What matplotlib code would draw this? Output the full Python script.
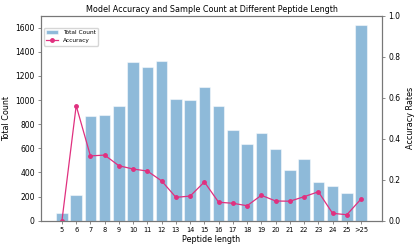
import matplotlib
matplotlib.use("Agg")
import matplotlib.pyplot as plt
import numpy as np

lengths = ["5", "6", "7", "8", "9", "10", "11", "12", "13", "14", "15", "16",
           "17", "18", "19", "20", "21", "22", "23", "24", "25", ">25"]
counts = [62, 212, 866, 874, 949, 1315, 1271, 1327, 1012, 998, 1111, 949,
          750, 634, 725, 593, 417, 510, 323, 290, 227, 1619]
accuracy = [0.0, 0.561, 0.316, 0.320, 0.268, 0.252, 0.242, 0.194, 0.114, 0.120,
            0.189, 0.090, 0.085, 0.073, 0.124, 0.096, 0.095, 0.117, 0.141,
            0.036, 0.029, 0.106]

fig = plt.figure(figsize=(4.15, 2.49), dpi=100)
ax = fig.add_axes([0.0988, 0.1137, 0.8217, 0.8233])
x = np.arange(len(lengths))
bars = ax.bar(x, counts, width=0.8, color="#1f77b4", alpha=0.5,
              edgecolor="white", linewidth=0.8, label="Total Count")
ax.set_ylim(0, max(counts) * 1.05)
ax.set_xlim(-1.47, len(lengths) - 1 + 1.47)
ax.set_xticks(x)
ax.set_xticklabels(lengths, fontsize=4.8)
ax.tick_params(axis="y", labelsize=5.5)
ax.set_xlabel("Peptide length", fontsize=5.8, labelpad=1.5)
ax.set_ylabel("Total Count", fontsize=5.8, labelpad=3)
ax.set_title("Model Accuracy and Sample Count at Different Peptide Length", fontsize=5.75, pad=3)

ax2 = ax.twinx()
line, = ax2.plot(x, accuracy, color="#e0307f", marker="o", markersize=2.5,
                 linewidth=0.9, label="Accuracy")
ax2.set_ylim(0, 1.0)
ax2.tick_params(axis="y", labelsize=5.5)
ax2.set_ylabel("Accuracy Rates", fontsize=5.8, labelpad=4)

for a in (ax, ax2):
    for s in a.spines.values():
        s.set_color("#777777")
        s.set_linewidth(0.8)
    a.tick_params(color="#777777", width=0.6, length=2.5, pad=2)

ax.legend([bars, line], ["Total Count", "Accuracy"], loc="upper left",
          fontsize=4.2, bbox_to_anchor=(0.0, 0.955), frameon=True, framealpha=0.8)

fig.savefig("out.png", dpi=100)
